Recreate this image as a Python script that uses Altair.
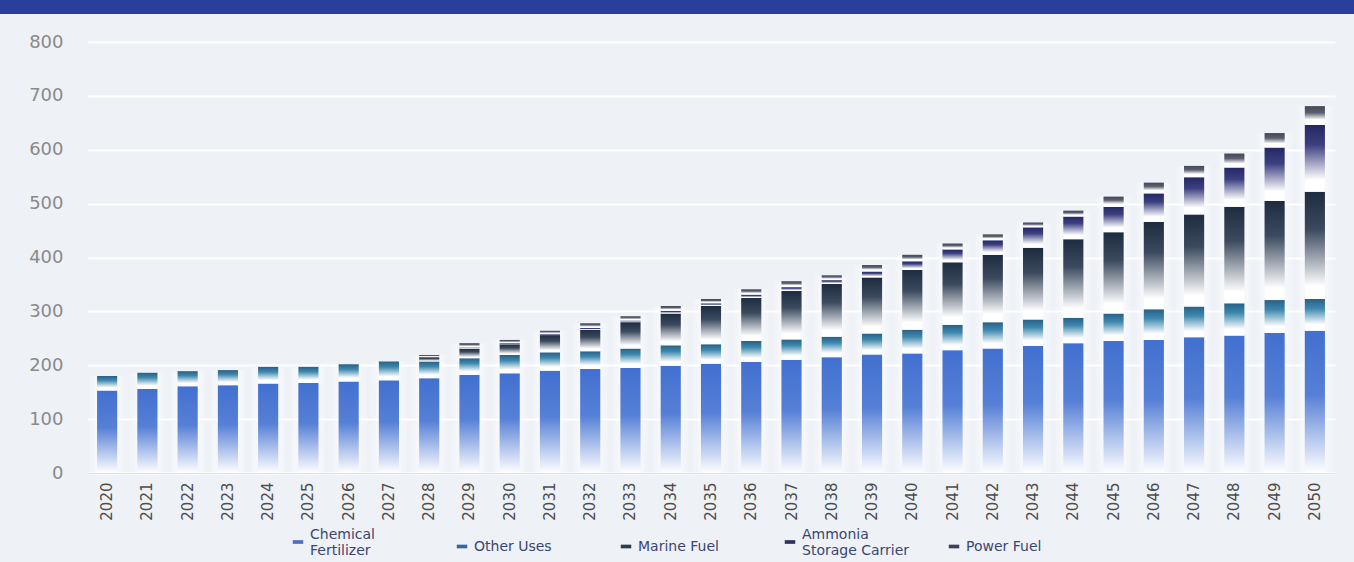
import altair as alt
import pandas as pd

# ---------------- data ----------------
years = ["2020", "2021", "2022", "2023", "2024", "2025", "2026", "2027", "2028", "2029",
         "2030", "2031", "2032", "2033", "2034", "2035", "2036", "2037", "2038", "2039",
         "2040", "2041", "2042", "2043", "2044", "2045", "2046", "2047", "2048", "2049", "2050"]

chemical_fertilizer = [153, 156, 161, 163, 166, 167, 170, 172, 176, 182,
                       185, 190, 193, 195, 199, 203, 206, 210, 215, 220,
                       222, 228, 231, 236, 241, 245, 247, 252, 255, 260, 264]
other_uses = [27, 30, 28, 28, 31, 30, 32, 35, 31, 31,
              34, 34, 33, 36, 38, 36, 39, 38, 38, 39,
              44, 47, 49, 49, 47, 51, 57, 57, 60, 61, 59]
marine_fuel = [0, 0, 0, 0, 0, 0, 0, 0, 8, 18,
               20, 32, 40, 49, 59, 71, 80, 90, 98, 104,
               111, 116, 125, 133, 146, 151, 162, 171, 179, 184, 199]
ammonia_storage_carrier = [0, 0, 0, 0, 0, 0, 0, 0, 0, 2,
                           2, 2, 3, 3, 5, 5, 6, 7, 7, 11,
                           16, 24, 27, 38, 42, 47, 53, 69, 73, 99, 124]
power_fuel = [0, 0, 0, 0, 0, 0, 0, 0, 4, 8,
              6, 6, 9, 8, 9, 8, 10, 11, 9, 12,
              12, 11, 11, 9, 11, 19, 20, 21, 26, 27, 35]

series_names = ["Chemical Fertilizer", "Other Uses", "Marine Fuel",
                "Ammonia Storage Carrier", "Power Fuel"]
y_ticks = [0, 100, 200, 300, 400, 500, 600, 700, 800]

# ---------------- styling ----------------
legend_colors = ["#4b6fc2", "#36679a", "#2f3a4c", "#2c3160", "#3c4157"]
gradient_stops = {
    "Chemical Fertilizer": [("#4270d0", 0.0), ("#5680d6", 0.45), ("#ffffff", 1.0)],
    "Other Uses": [("#2a5f86", 0.0), ("#3d88ae", 0.3), ("#ffffff", 0.8)],
    "Marine Fuel": [("#1e2c40", 0.0), ("#3b4a5e", 0.35), ("#ffffff", 0.88)],
    "Ammonia Storage Carrier": [("#242864", 0.0), ("#3c4080", 0.3), ("#ffffff", 0.82)],
    "Power Fuel": [("#454857", 0.0), ("#5b5e6c", 0.35), ("#ffffff", 0.72)],
}
BG = "#eef1f6"

# ---------------- table built from the lists ----------------
all_values = [chemical_fertilizer, other_uses, marine_fuel, ammonia_storage_carrier, power_fuel]
rows = []
for i, yr in enumerate(years):
    base = 0
    for name, vals in zip(series_names, all_values):
        v = vals[i]
        rows.append({"year": yr, "series": name, "start": base, "end": base + v, "value": v})
        base += v
df = pd.DataFrame(rows)
totals = df.groupby("year", as_index=False)["end"].max().rename(columns={"end": "total"})

x_enc = alt.X(
    "year:N", sort=years,
    scale=alt.Scale(paddingInner=0.5, paddingOuter=0.25),
    axis=alt.Axis(title=None, labelAngle=270, labelPadding=9, ticks=False,
                  domain=True, domainColor="#dde2ea", labelFont="DejaVu Sans",
                  labelFontSize=15, labelColor="#4d4d4d", grid=False),
)
y_scale = alt.Scale(domain=[0, 800], nice=False, zero=True)
y_axis = alt.Axis(title=None, values=y_ticks, labelPadding=24, ticks=False, domain=False,
                  grid=True, gridColor="#ffffff", gridWidth=2, labelFont="DejaVu Sans",
                  labelFontSize=18, labelColor="#8a8a8a")

# soft white column behind each bar
glow_wide = alt.Chart(totals).mark_bar(
    width=alt.RelativeBandSize(1.7), color="#ffffff", opacity=0.22
).encode(
    x=x_enc,
    y=alt.Y("total:Q", scale=y_scale, axis=y_axis),
)
glow = alt.Chart(totals).mark_bar(
    width=alt.RelativeBandSize(1.35), color="#ffffff", opacity=0.3
).encode(
    x=x_enc,
    y=alt.Y("total:Q", scale=y_scale, axis=y_axis),
)

layers = [glow_wide, glow]
for name in series_names:
    stops = [alt.GradientStop(color=c, offset=o) for c, o in gradient_stops[name]]
    grad = alt.Gradient(gradient="linear", stops=stops, x1=0, x2=0, y1=0, y2=1)
    seg = alt.Chart(df).transform_filter(
        alt.datum.series == name
    ).mark_bar(color=grad).encode(
        x=x_enc,
        y=alt.Y("end:Q", scale=y_scale, axis=y_axis),
        y2="start:Q",
        tooltip=["year:N", "series:N", "value:Q"],
    )
    layers.append(seg)

label_expr = ("datum.label == 'Chemical Fertilizer' ? ['Chemical', 'Fertilizer'] : "
              "datum.label == 'Ammonia Storage Carrier' ? ['Ammonia', 'Storage Carrier'] : datum.label")
baseline_expr = ("indexof(['Chemical Fertilizer', 'Ammonia Storage Carrier'], datum.value) >= 0 "
                 "? 'bottom' : 'middle'")

legend_layer = alt.Chart(df).mark_bar(opacity=0).encode(
    x=x_enc,
    y=alt.Y("end:Q", scale=y_scale, axis=y_axis),
    y2="start:Q",
    color=alt.Color(
        "series:N",
        scale=alt.Scale(domain=series_names, range=legend_colors),
        legend=alt.Legend(
            title=None, orient="none", legendX=204, legendY=493,
            direction="horizontal", columns=5, gridAlign="all", columnPadding=37,
            symbolType="M-1,-0.35L1,-0.35L1,0.35L-1,0.35Z", symbolSize=110,
            symbolOpacity=1, symbolStrokeWidth=0,
            labelFont="DejaVu Sans", labelFontSize=14, labelColor="#3a4670",
            labelExpr=label_expr, labelLimit=300, labelOffset=5,
            labelBaseline=alt.ExprRef(expr=baseline_expr),
        ),
    ),
)
layers.append(legend_layer)

# dark blue banner across the top of the picture (decoration)
banner = alt.Chart(pd.DataFrame({"k": [0]})).mark_rect(color="#2a3e9e").encode(
    x=alt.value(-87), x2=alt.value(1354 - 87), y=alt.value(-42), y2=alt.value(-28)
)
layers.append(banner)

chart = alt.layer(*layers).properties(
    width=1248, height=431,
    background=BG,
    autosize=alt.AutoSizeParams(type="none"),
    padding={"left": 87, "top": 42, "right": 19, "bottom": 89},
).configure_view(stroke=None, fill=BG)

chart.save("out.html", embed_options={"renderer": "svg", "actions": False})
